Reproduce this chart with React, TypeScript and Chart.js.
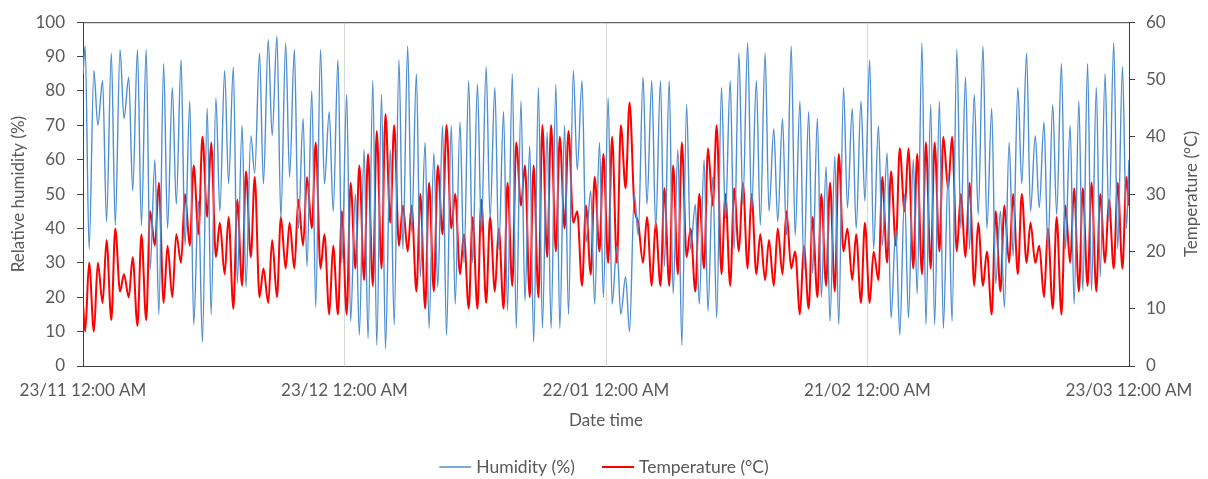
import React, { useEffect, useRef } from 'react';
import { Chart, registerables } from 'chart.js';

Chart.register(...registerables);

// X-axis tick labels (every 30 days)
const tickLabels = ['23/11 12:00 AM', '23/12 12:00 AM', '22/01 12:00 AM', '21/02 12:00 AM', '23/03 12:00 AM'];

// Relative humidity (%) — daily morning peak and afternoon low, day 0..119
const humidityMorning = [
  93, 86, 83, 91, 92, 84, 92, 92, 60, 88,
  81, 89, 77, 48, 75, 78, 86, 87, 70, 67,
  91, 95, 96, 94, 92, 72, 80, 92, 74, 89,
  79, 50, 63, 83, 79, 63, 89, 93, 85, 65,
  62, 70, 70, 71, 83, 82, 87, 81, 74, 85,
  77, 64, 81, 68, 82, 70, 86, 83, 51, 65,
  78, 35, 26, 50, 84, 83, 83, 83, 63, 76,
  47, 60, 55, 81, 83, 91, 94, 83, 91, 69,
  72, 93, 77, 74, 72, 58, 61, 81, 75, 77,
  89, 70, 62, 40, 50, 60, 94, 76, 77, 56,
  92, 84, 79, 93, 75, 45, 65, 81, 91, 67,
  71, 76, 88, 70, 77, 88, 81, 85, 94, 87,
];
const humidityAfternoon = [
  34, 70, 42, 41, 72, 51, 41, 28, 15, 40,
  47, 35, 12, 7, 15, 45, 53, 24, 23, 56,
  53, 67, 43, 55, 40, 29, 17, 53, 45, 30,
  13, 9, 8, 6, 5, 12, 34, 39, 26, 11,
  23, 9, 18, 30, 30, 39, 43, 34, 16, 11,
  19, 7, 11, 11, 11, 15, 57, 36, 18, 20,
  18, 15, 10, 38, 47, 40, 29, 21, 6, 34,
  18, 16, 14, 43, 34, 47, 45, 41, 45, 42,
  38, 38, 28, 27, 20, 13, 12, 46, 40, 48,
  34, 35, 14, 9, 14, 21, 12, 12, 11, 13,
  40, 34, 44, 40, 24, 17, 32, 53, 45, 46,
  34, 44, 34, 18, 22, 22, 26, 42, 34, 40,
];
const humidityStartEnd = [85, 60];

// Temperature (°C) — daily morning low and afternoon peak, day 0..119
const temperatureMorning = [
  6, 6, 11, 8, 13, 12, 7, 8, 21, 11,
  12, 18, 21, 23, 26, 19, 16, 10, 14, 19,
  12, 11, 12, 17, 17, 21, 24, 17, 9, 9,
  9, 17, 15, 14, 17, 25, 21, 20, 13, 10,
  13, 23, 24, 16, 10, 10, 11, 13, 10, 14,
  28, 12, 12, 19, 20, 24, 25, 14, 16, 20,
  18, 18, 31, 28, 18, 14, 14, 14, 16, 19,
  13, 17, 28, 16, 14, 20, 17, 16, 15, 14,
  16, 17, 9, 10, 12, 14, 13, 20, 15, 11,
  11, 15, 18, 21, 27, 17, 16, 17, 20, 31,
  20, 19, 14, 14, 9, 13, 18, 16, 18, 18,
  12, 10, 9, 18, 13, 14, 13, 18, 17, 17,
];
const temperatureAfternoon = [
  18, 18, 22, 24, 16, 19, 23, 27, 32, 21,
  23, 30, 35, 40, 39, 25, 26, 29, 34, 33,
  17, 22, 26, 25, 29, 33, 39, 23, 21, 27,
  32, 35, 37, 41, 44, 42, 28, 28, 30, 32,
  35, 42, 30, 23, 26, 29, 26, 24, 32, 39,
  35, 35, 42, 42, 40, 41, 27, 28, 33, 37,
  40, 42, 46, 25, 26, 25, 31, 35, 39, 24,
  30, 38, 42, 30, 31, 32, 30, 23, 22, 24,
  27, 20, 21, 26, 30, 32, 37, 24, 23, 25,
  20, 33, 34, 38, 38, 37, 39, 39, 40, 40,
  30, 32, 25, 20, 27, 28, 30, 30, 25, 21,
  24, 26, 28, 31, 31, 32, 30, 29, 32, 33,
];
const temperatureStartEnd = [11, 28];

const humidityLabel = 'Humidity (%)';
const temperatureLabel = 'Temperature (°C)';

type Pt = { x: number; y: number };

function buildSeries(morning: number[], afternoon: number[], ends: number[]): Pt[] {
  const pts: Pt[] = [{ x: 0, y: ends[0] }];
  for (let d = 0; d < morning.length; d++) {
    pts.push({ x: d + 0.25, y: morning[d] });
    pts.push({ x: d + 0.7, y: afternoon[d] });
  }
  pts.push({ x: morning.length, y: ends[1] });
  return pts;
}

const FONT = 'Lato';
const FSIZE = 17;
const TEXT = '#595959';
const AXIS = '#404040';
const BLUE = '#4F8FD0';
const RED = '#FF0000';

export default function App() {
  const ref = useRef<HTMLCanvasElement | null>(null);

  useEffect(() => {
    document.body.style.margin = '0';
    const canvas = ref.current;
    if (!canvas) return;

    const decorations = {
      id: 'decorations',
      afterDraw(chart: any) {
        const { ctx, chartArea, width } = chart;
        ctx.save();
        // top frame line
        ctx.strokeStyle = AXIS;
        ctx.lineWidth = 1;
        ctx.beginPath();
        ctx.moveTo(chartArea.left, chartArea.top + 0.5);
        ctx.lineTo(chartArea.right, chartArea.top + 0.5);
        ctx.stroke();

        ctx.font = `${FSIZE}px ${FONT}`;
        ctx.fillStyle = TEXT;
        ctx.textBaseline = 'middle';

        // right axis title, reading bottom-to-top
        ctx.save();
        ctx.translate(width - 16, (chartArea.top + chartArea.bottom) / 2);
        ctx.rotate(-Math.PI / 2);
        ctx.textAlign = 'center';
        ctx.fillText(temperatureLabel, 0, 0);
        ctx.restore();

        // legend
        ctx.font = `17.5px ${FONT}`;
        const lineLen = 32;
        const gapText = 5;
        const gapItems = 27;
        const w1 = ctx.measureText(humidityLabel).width;
        const w2 = ctx.measureText(temperatureLabel).width;
        const total = lineLen + gapText + w1 + gapItems + lineLen + gapText + w2;
        let x = width / 2 - total / 2;
        const y = 467;
        ctx.textAlign = 'left';
        ctx.strokeStyle = BLUE;
        ctx.lineWidth = 1.4;
        ctx.beginPath();
        ctx.moveTo(x, y);
        ctx.lineTo(x + lineLen, y);
        ctx.stroke();
        x += lineLen + gapText;
        ctx.fillText(humidityLabel, x, y);
        x += w1 + gapItems;
        ctx.strokeStyle = RED;
        ctx.lineWidth = 2;
        ctx.beginPath();
        ctx.moveTo(x, y);
        ctx.lineTo(x + lineLen, y);
        ctx.stroke();
        x += lineLen + gapText;
        ctx.fillText(temperatureLabel, x, y);
        ctx.restore();
      },
    };

    const chart = new Chart(canvas, {
      type: 'line',
      data: {
        datasets: [
          {
            label: humidityLabel,
            data: buildSeries(humidityMorning, humidityAfternoon, humidityStartEnd),
            borderColor: BLUE,
            backgroundColor: BLUE,
            borderWidth: 1.4,
            pointRadius: 0,
            cubicInterpolationMode: 'monotone',
            yAxisID: 'y',
          },
          {
            label: temperatureLabel,
            data: buildSeries(temperatureMorning, temperatureAfternoon, temperatureStartEnd),
            borderColor: RED,
            backgroundColor: RED,
            borderWidth: 2,
            pointRadius: 0,
            cubicInterpolationMode: 'monotone',
            yAxisID: 'y1',
          },
        ],
      },
      options: {
        animation: false,
        responsive: true,
        maintainAspectRatio: false,
        layout: { padding: { top: 0, left: 0, right: 0, bottom: 36 } },
        plugins: {
          legend: { display: false },
          tooltip: { enabled: false },
        },
        scales: {
          x: {
            type: 'linear',
            min: 0,
            max: 120,
            afterFit: (s: any) => { s.height = 77; },
            ticks: {
              stepSize: 30,
              color: TEXT,
              font: { family: FONT, size: FSIZE },
              padding: 14,
              maxRotation: 0,
              callback: (v: any) => tickLabels[Math.round(Number(v) / 30)] ?? '',
            },
            grid: { color: '#D9D9D9', drawTicks: false },
            border: { color: AXIS, width: 1 },
            title: { display: true, text: 'Date time', color: TEXT, font: { family: FONT, size: FSIZE }, padding: { top: 0, bottom: 12 } },
          },
          y: {
            position: 'left',
            min: 0,
            max: 100,
            afterFit: (s: any) => { s.width = 83; },
            ticks: { stepSize: 10, color: TEXT, font: { family: FONT, size: FSIZE }, padding: 12 },
            grid: { drawOnChartArea: false, drawTicks: true, tickLength: 6, color: AXIS },
            border: { color: AXIS, width: 1 },
            title: { display: true, text: 'Relative humidity (%)', color: TEXT, font: { family: FONT, size: FSIZE }, padding: { top: 8, bottom: 0 } },
          },
          y1: {
            position: 'right',
            min: 0,
            max: 60,
            afterFit: (s: any) => { s.width = 79; },
            ticks: { stepSize: 10, color: TEXT, font: { family: FONT, size: FSIZE }, padding: 11 },
            grid: { drawOnChartArea: false, drawTicks: true, tickLength: 6, color: AXIS },
            border: { color: AXIS, width: 1 },
            title: { display: false },
          },
        },
      },
      plugins: [decorations],
    });

    return () => chart.destroy();
  }, []);

  return (
    <div style={{ position: 'relative', width: 1208, height: 479 }}>
      <canvas ref={ref} />
    </div>
  );
}
